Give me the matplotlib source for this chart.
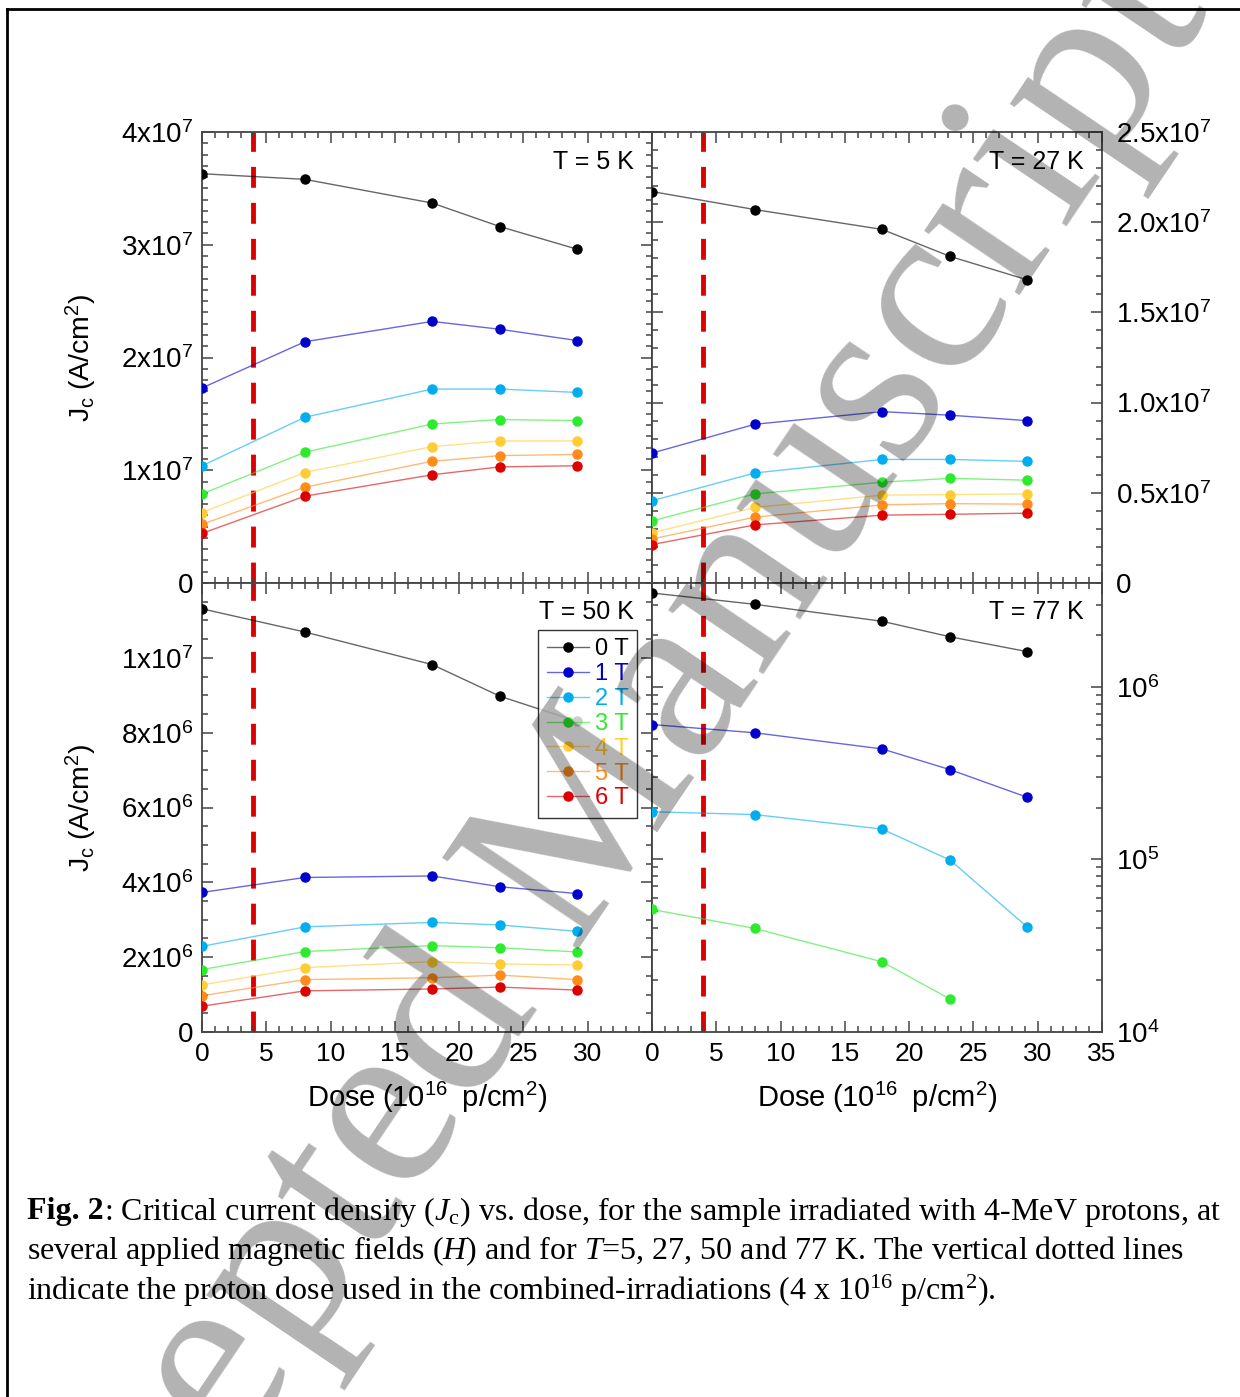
import matplotlib
matplotlib.use('Agg')
import matplotlib.pyplot as plt
from matplotlib.lines import Line2D
from matplotlib.ticker import FixedLocator, MultipleLocator, LogLocator, NullFormatter

plt.rcParams['font.family'] = ['Liberation Sans', 'DejaVu Sans']
plt.rcParams['mathtext.fontset'] = 'custom'
plt.rcParams['mathtext.rm'] = 'Liberation Serif'
plt.rcParams['mathtext.it'] = 'Liberation Serif:italic'
plt.rcParams['mathtext.bf'] = 'Liberation Serif:bold'
plt.rcParams['mathtext.sf'] = 'Liberation Sans'

# --- data ---
fields = ['0 T', '1 T', '2 T', '3 T', '4 T', '5 T', '6 T']
colors = ['#000000', '#0000CC', '#00AEEF', '#2EEA2E', '#FFCC33', '#FF8C1A', '#DD0000']
dose = [0, 8, 17.9, 23.2, 29.2]
dose_mark = 4

jc_5K = [[3.63e7, 3.58e7, 3.37e7, 3.16e7, 2.96e7],
         [1.73e7, 2.14e7, 2.32e7, 2.25e7, 2.15e7],
         [1.04e7, 1.47e7, 1.72e7, 1.72e7, 1.69e7],
         [0.79e7, 1.16e7, 1.41e7, 1.45e7, 1.44e7],
         [0.625e7, 0.98e7, 1.21e7, 1.26e7, 1.26e7],
         [0.52e7, 0.85e7, 1.08e7, 1.13e7, 1.14e7],
         [0.44e7, 0.77e7, 0.96e7, 1.03e7, 1.04e7]]

jc_27K = [[2.17e7, 2.07e7, 1.96e7, 1.81e7, 1.68e7],
          [0.72e7, 0.88e7, 0.95e7, 0.93e7, 0.90e7],
          [0.456e7, 0.61e7, 0.685e7, 0.685e7, 0.674e7],
          [0.344e7, 0.494e7, 0.559e7, 0.58e7, 0.57e7],
          [0.278e7, 0.419e7, 0.487e7, 0.49e7, 0.494e7],
          [0.244e7, 0.365e7, 0.433e7, 0.44e7, 0.437e7],
          [0.213e7, 0.322e7, 0.376e7, 0.381e7, 0.387e7]]

jc_50K = [[11.31e6, 10.69e6, 9.82e6, 8.97e6, 8.3e6],
          [3.73e6, 4.13e6, 4.17e6, 3.88e6, 3.70e6],
          [2.29e6, 2.81e6, 2.93e6, 2.86e6, 2.69e6],
          [1.67e6, 2.15e6, 2.31e6, 2.25e6, 2.14e6],
          [1.26e6, 1.72e6, 1.88e6, 1.82e6, 1.79e6],
          [0.97e6, 1.40e6, 1.45e6, 1.52e6, 1.40e6],
          [0.69e6, 1.10e6, 1.15e6, 1.20e6, 1.12e6]]

jc_77K = [[3.50e6, 3.01e6, 2.40e6, 1.95e6, 1.60e6],
          [6.05e5, 5.42e5, 4.37e5, 3.31e5, 2.29e5],
          [1.89e5, 1.82e5, 1.50e5, 9.9e4, 4.05e4],
          [5.13e4, 3.98e4, 2.55e4, 1.55e4]]

ticks_5K = [0, 1e7, 2e7, 3e7, 4e7]
labels_5K = ['0', r'$\mathsf{1x10^{7}}$', r'$\mathsf{2x10^{7}}$', r'$\mathsf{3x10^{7}}$', r'$\mathsf{4x10^{7}}$']
ticks_27K = [0, 0.5e7, 1.0e7, 1.5e7, 2.0e7, 2.5e7]
labels_27K = ['0', r'$\mathsf{0.5x10^{7}}$', r'$\mathsf{1.0x10^{7}}$', r'$\mathsf{1.5x10^{7}}$',
              r'$\mathsf{2.0x10^{7}}$', r'$\mathsf{2.5x10^{7}}$']
ticks_50K = [0, 2e6, 4e6, 6e6, 8e6, 1e7]
labels_50K = ['0', r'$\mathsf{2x10^{6}}$', r'$\mathsf{4x10^{6}}$', r'$\mathsf{6x10^{6}}$',
              r'$\mathsf{8x10^{6}}$', r'$\mathsf{1x10^{7}}$']
ticks_77K = [1e4, 1e5, 1e6]
labels_77K = [r'$\mathsf{10^{4}}$', r'$\mathsf{10^{5}}$', r'$\mathsf{10^{6}}$']
xticks_left = [0, 5, 10, 15, 20, 25, 30]
xticks_right = [0, 5, 10, 15, 20, 25, 30, 35]

caption_head = 'Fig. 2'
caption = [r': Critical current density ($J_\mathrm{c}$) vs. dose, for the sample irradiated with 4-MeV protons, at',
           r'several applied magnetic fields ($H$) and for $T$=5, 27, 50 and 77 K. The vertical dotted lines',
           r'indicate the proton dose used in the combined-irradiations (4 x 10$^{16}$ p/cm$^{2}$).']

W, H = 1240, 1397
fig = plt.figure(figsize=(W / 100, H / 100), dpi=100)

def box(x0, y0, x1, y1):
    return [x0 / W, 1 - y1 / H, (x1 - x0) / W, (y1 - y0) / H]

ax_tl = fig.add_axes(box(202, 132, 652, 583))
ax_tr = fig.add_axes(box(652, 132, 1102, 583))
ax_bl = fig.add_axes(box(202, 583, 652, 1032))
ax_br = fig.add_axes(box(652, 583, 1102, 1032))

spine_col = '#444444'

def style(ax):
    for s in ax.spines.values():
        s.set_color(spine_col)
        s.set_linewidth(1.3)
    ax.set_xlim(0, 35)
    ax.xaxis.set_major_locator(MultipleLocator(5))
    ax.xaxis.set_minor_locator(MultipleLocator(1))
    ax.tick_params(which='both', direction='in', top=True, bottom=True, left=True, right=True,
                   color=spine_col, labelsize=20, width=1.1)
    ax.tick_params(which='major', length=8)
    ax.tick_params(which='minor', length=4.5)
    ax.tick_params(axis='y', pad=6)
    ax.axvline(dose_mark, color='#DD0000', lw=3.5, ls=(0, (4.3, 3.1)), zorder=1)

def draw(ax, data):
    for i, ys in enumerate(data):
        c = matplotlib.colors.to_rgba(colors[i])
        ax.plot(dose[:len(ys)], ys, '-o', color=(c[0], c[1], c[2], 0.6), lw=1.0,
                ms=6.5, mfc=colors[i], mec=colors[i], label=fields[i], zorder=3)

for ax in (ax_tl, ax_tr, ax_bl, ax_br):
    style(ax)

draw(ax_tl, jc_5K)
draw(ax_tr, jc_27K)
draw(ax_bl, jc_50K)
draw(ax_br, jc_77K)

# top left
ax_tl.set_ylim(0, 4e7)
ax_tl.yaxis.set_major_locator(FixedLocator(ticks_5K))
ax_tl.set_yticklabels(labels_5K)
ax_tl.yaxis.set_minor_locator(MultipleLocator(0.1e7))
ax_tl.tick_params(labelbottom=False)

# top right
ax_tr.set_ylim(0, 2.5e7)
ax_tr.yaxis.set_major_locator(FixedLocator(ticks_27K))
ax_tr.set_yticklabels(labels_27K)
ax_tr.yaxis.set_minor_locator(MultipleLocator(0.1e7))
ax_tr.tick_params(labelbottom=False, labelleft=False, labelright=True)
ax_tr.tick_params(axis='y', pad=10)

# bottom left
ax_bl.set_ylim(0, 1.2e7)
ax_bl.yaxis.set_major_locator(FixedLocator(ticks_50K))
ax_bl.set_yticklabels(labels_50K)
ax_bl.yaxis.set_minor_locator(MultipleLocator(0.5e6))
ax_bl.set_xticks(xticks_left)
ax_bl.set_xticklabels([str(v) for v in xticks_left])

# bottom right (log)
ax_br.set_yscale('log')
ax_br.set_ylim(1e4, 4e6)
ax_br.yaxis.set_major_locator(FixedLocator(ticks_77K))
ax_br.set_yticklabels(labels_77K)
ax_br.yaxis.set_minor_locator(LogLocator(base=10, subs=range(2, 10)))
ax_br.yaxis.set_minor_formatter(NullFormatter())
ax_br.tick_params(labelleft=False, labelright=True)
ax_br.tick_params(axis='y', pad=10)
ax_br.set_xticks(xticks_right)
ax_br.set_xticklabels([str(v) for v in xticks_right])

for ax in (ax_bl, ax_br):
    ax.tick_params(axis='x', pad=7, labelsize=19)
    ax.set_xlabel(r'$\mathsf{Dose\ (10^{16}\ \ p/cm^{2})}$', fontsize=21, labelpad=10)

for ax in (ax_tl, ax_bl):
    ax.set_ylabel(r'$\mathsf{J_c\ (A/cm^{2})}$', fontsize=20.5, labelpad=16)

for ax, t, y in ((ax_tl, 'T = 5 K', 0.933), (ax_tr, 'T = 27 K', 0.933),
                 (ax_bl, 'T = 50 K', 0.935), (ax_br, 'T = 77 K', 0.935)):
    ax.text(0.96, y, t, transform=ax.transAxes, ha='right', va='center', fontsize=18, zorder=5)

leg = ax_bl.legend(loc='upper right', bbox_to_anchor=(0.967, 0.895), borderaxespad=0,
                   fontsize=17, frameon=True, fancybox=False, edgecolor='black',
                   handlelength=1.8, handletextpad=0.25, labelspacing=0.12,
                   borderpad=0.35, numpoints=1)
leg.get_frame().set_linewidth(1.0)
leg.set_zorder(6)
for txt, c in zip(leg.get_texts(), colors):
    txt.set_color(c)

# caption
cap_size = 23.05
head = fig.text(27 / W, 1 - 1212 / H, caption_head, family='Liberation Serif', weight='bold',
                fontsize=cap_size, ha='left', va='center')
fig.canvas.draw()
head_end = head.get_window_extent().x1 / W
for k, line in enumerate(caption):
    x0 = head_end if k == 0 else 27 / W
    fig.text(x0, 1 - (1212 + 39.5 * k) / H, line, family='Liberation Serif',
             fontsize=cap_size, ha='left', va='center')

# page frame
fig.add_artist(Line2D([7 / W, 7 / W], [0, 1 - 9 / H], color='black', lw=2))
fig.add_artist(Line2D([7 / W, 1], [1 - 9 / H, 1 - 9 / H], color='black', lw=2))

# watermark
fig.text(612 / W, 1 - 900 / H, 'Accepted Manuscript', family='Liberation Serif',
         fontsize=180, color='black', alpha=0.3, rotation=56, rotation_mode='anchor',
         ha='center', va='baseline', zorder=20)

fig.savefig('out.png', dpi=100)
